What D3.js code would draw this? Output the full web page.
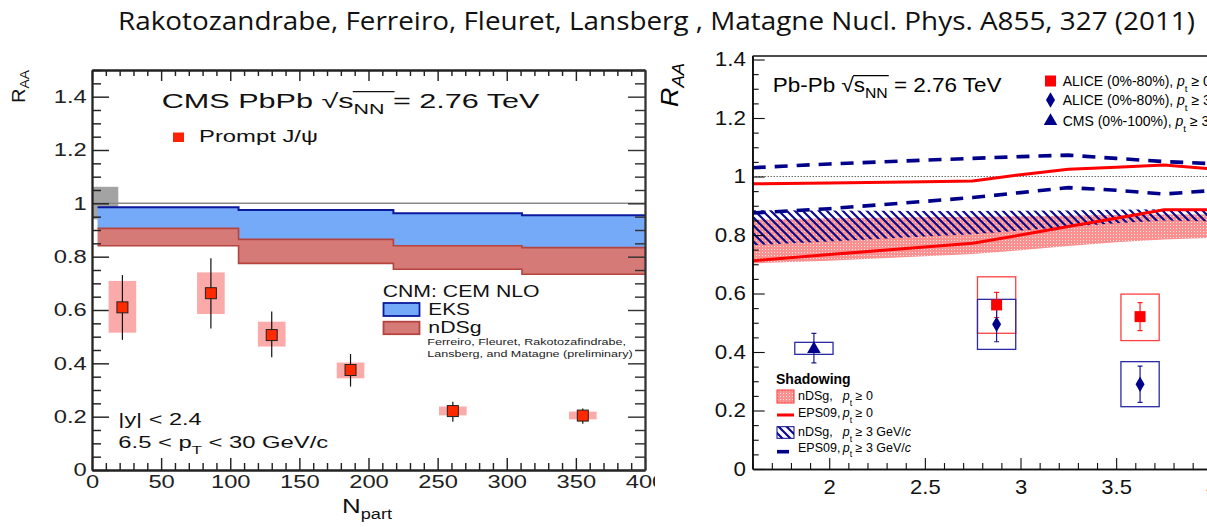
<!DOCTYPE html>
<html><head><meta charset="utf-8">
<script src="https://cdn.jsdelivr.net/npm/d3@7/dist/d3.min.js"></script>
<style>html,body{margin:0;padding:0;background:#fff;}svg{display:block;}</style>
</head><body>
<svg id="chart" width="1207" height="527"></svg>
<script>
// ================= DATA =================
const titleText = "Rakotozandrabe, Ferreiro, Fleuret, Lansberg , Matagne Nucl. Phys. A855, 327 (2011)";

// ---- Left panel: CMS prompt J/psi R_AA vs N_part ----
const npart      = [22, 86, 130, 187, 261, 355];
const raaCMS     = [0.610, 0.663, 0.506, 0.375, 0.221, 0.204];
const statLoCMS  = [0.488, 0.531, 0.423, 0.313, 0.181, 0.173];
const statHiCMS  = [0.731, 0.794, 0.594, 0.435, 0.256, 0.231];
const systLoCMS  = [0.515, 0.585, 0.463, 0.344, 0.205, 0.190];
const systHiCMS  = [0.709, 0.741, 0.556, 0.403, 0.238, 0.219];
const systHalfNpart = 10;
const globalBoxNpart = [0, 19];
const globalBoxRaa   = [0.94, 1.062];
const cnmBinEdges = [4, 106, 218, 311, 400];
const eksHi  = [0.985, 0.975, 0.963, 0.955];
const eksLo  = [0.905, 0.865, 0.841, 0.834];
const ndsgHi = [0.906, 0.865, 0.841, 0.834];
const ndsgLo = [0.841, 0.775, 0.753, 0.734];
const leftXTicks = [0, 50, 100, 150, 200, 250, 300, 350, 400];
const leftYTicks = [0, 0.2, 0.4, 0.6, 0.8, 1, 1.2, 1.4];

// ---- Right panel: ALICE / CMS R_AA vs rapidity with shadowing ----
const rapGrid     = [1.6, 2.0, 2.5, 2.75, 3.0, 3.25, 3.5, 3.75, 4.0];
const eps09Pt0Hi  = [0.975, 0.978, 0.982, 0.985, 1.006, 1.025, 1.032, 1.039, 1.026];
const eps09Pt0Lo  = [0.712, 0.733, 0.759, 0.772, 0.800, 0.829, 0.857, 0.886, 0.886];
const eps09Pt3Hi  = [1.030, 1.043, 1.056, 1.062, 1.068, 1.073, 1.062, 1.051, 1.044];
const eps09Pt3Lo  = [0.875, 0.890, 0.915, 0.928, 0.945, 0.962, 0.953, 0.940, 0.952];
const ndsgPt3Hi   = [0.885, 0.884, 0.882, 0.882, 0.883, 0.884, 0.886, 0.888, 0.888];
const ndsgPt3Lo   = [0.765, 0.778, 0.795, 0.803, 0.815, 0.828, 0.840, 0.850, 0.847];
const ndsgPt0Hi   = [0.852, 0.857, 0.861, 0.862, 0.864, 0.866, 0.868, 0.870, 0.870];
const ndsgPt0Lo   = [0.703, 0.712, 0.727, 0.735, 0.748, 0.762, 0.775, 0.785, 0.790];

const aliceRap      = [2.875, 3.625];
const alicePt0      = [0.561, 0.521];
const alicePt0StLo  = [0.518, 0.473];
const alicePt0StHi  = [0.604, 0.569];
const alicePt0SyLo  = [0.464, 0.439];
const alicePt0SyHi  = [0.657, 0.598];
const alicePt3      = [0.495, 0.290];
const alicePt3StLo  = [0.435, 0.228];
const alicePt3StHi  = [0.555, 0.352];
const alicePt3SyLo  = [0.409, 0.213];
const alicePt3SyHi  = [0.580, 0.367];
const cmsRap        = [1.92];
const cmsRaa        = [0.410];
const cmsStLo       = [0.363];
const cmsStHi       = [0.464];
const cmsSyLo       = [0.392];
const cmsSyHi       = [0.433];
const systHalfRap   = 0.1;
const rightXTicks = [2, 2.5, 3, 3.5, 4];
const rightYTicks = [0, 0.2, 0.4, 0.6, 0.8, 1, 1.2, 1.4];

// ================= DRAWING =================
const FONT = "'Liberation Sans', Arial, Helvetica, sans-serif";
const svg = d3.select("#chart");
const defs = svg.append("defs");
const fmt = d3.format("~g");

// patterns
const hatch = defs.append("pattern").attr("id","hatch").attr("patternUnits","userSpaceOnUse")
  .attr("width",8).attr("height",8);
hatch.append("path").attr("d","M0,0 L8,8 M-2,6 L2,10 M6,-2 L10,2")
  .attr("stroke","#0a0a8c").attr("stroke-width",2.2).attr("fill","none");
const dots = defs.append("pattern").attr("id","dots").attr("patternUnits","userSpaceOnUse")
  .attr("width",3).attr("height",3);
dots.append("rect").attr("width",3).attr("height",3).attr("fill","#fb9090");
dots.append("rect").attr("x",0).attr("y",0).attr("width",1).attr("height",1).attr("fill","#ffe4e4");

defs.append("clipPath").attr("id","clipL").append("rect").attr("x",0).attr("y",40).attr("width",655).attr("height",487);

// rich text helper
function rich(parent, x, y, parts, o) {
  const g = parent.append("g").attr("transform", `translate(${x},${y})`);
  const t = g.append("text").attr("font-family", o.family || FONT).attr("font-size", o.size)
    .attr("fill", o.fill || "#000");
  if (o.weight) t.attr("font-weight", o.weight);
  if (o.style) t.attr("font-style", o.style);
  let shift = 0;
  const subShift = (o.subShift || 0.33) * o.size;
  parts.forEach(p => {
    if (typeof p === "string") p = {t: p};
    const s = p.sub ? subShift : 0;
    const ts = t.append("tspan").text(p.t);
    if (p.x !== undefined) ts.attr("x", p.x);
    if (s !== shift) ts.attr("dy", s - shift);
    shift = s;
    if (p.sub) ts.attr("font-size", o.size * 0.7);
    if (p.italic) ts.attr("font-style", "italic");
  });
  let sx = o.sx || 1;
  if (o.width) sx = o.width / t.node().getComputedTextLength();
  g.attr("transform", `translate(${x},${y}) scale(${sx},1)`);
  if (o.over) {
    const n = t.node();
    const e = n.getExtentOfChar(o.over[0]);
    const x1 = e.x + e.width - 0.5;
    const x2 = n.getEndPositionOfChar(o.over[1]).x + 1;
    const yy = -o.size * 0.80;
    g.append("line").attr("x1", x1).attr("x2", x2).attr("y1", yy).attr("y2", yy)
      .attr("stroke", o.fill || "#000").attr("stroke-width", o.size * 0.065);
  }
  return g;
}

// ---- Title ----
svg.append("text").attr("x",118).attr("y",30).attr("font-family","'Liberation Sans Narrow', 'Open Sans', sans-serif")
  .attr("font-size",26).attr("fill","#111").attr("textLength",1077).attr("lengthAdjust","spacingAndGlyphs")
  .text(titleText);

// ================= LEFT PANEL =================
const L = svg.append("g").attr("clip-path","url(#clipL)");
const xL = d3.scaleLinear().domain([0, 400]).range([92, 645]);
const yL = d3.scaleLinear().domain([0, 1.5]).range([470, 70]);

L.append("rect").attr("x", xL(globalBoxNpart[0])).attr("width", xL(globalBoxNpart[1]) - xL(globalBoxNpart[0]))
  .attr("y", yL(globalBoxRaa[1])).attr("height", yL(globalBoxRaa[0]) - yL(globalBoxRaa[1]))
  .attr("fill", "#a3a3a3");

const stepData = (hi, lo) => cnmBinEdges.map((e, i) => ({x: e, hi: hi[Math.min(i, hi.length - 1)], lo: lo[Math.min(i, lo.length - 1)]}));
const bandArea = d3.area().x(d => xL(d.x)).y0(d => yL(d.lo)).y1(d => yL(d.hi)).curve(d3.curveStepAfter);
const lineHi = d3.line().x(d => xL(d.x)).y(d => yL(d.hi)).curve(d3.curveStepAfter);
const lineLo = d3.line().x(d => xL(d.x)).y(d => yL(d.lo)).curve(d3.curveStepAfter);
const eksD = stepData(eksHi, eksLo), ndsgD = stepData(ndsgHi, ndsgLo);
L.append("path").datum(eksD).attr("d", bandArea).attr("fill", "#75aaf8");
L.append("path").datum(eksD).attr("d", lineHi).attr("fill","none").attr("stroke","#0b1a9c").attr("stroke-width",2);
L.append("path").datum(ndsgD).attr("d", bandArea).attr("fill", "#d67a77");
L.append("path").datum(ndsgD).attr("d", lineHi).attr("fill","none").attr("stroke","#b5443f").attr("stroke-width",1.6);
L.append("path").datum(ndsgD).attr("d", lineLo).attr("fill","none").attr("stroke","#b5443f").attr("stroke-width",1.6);

L.append("line").attr("x1", xL(0)).attr("x2", xL(400)).attr("y1", yL(1)).attr("y2", yL(1))
  .attr("stroke", "#8a8a8a").attr("stroke-width", 1.5);

function styleAxis(g, color, w) {
  g.select(".domain").attr("stroke", color).attr("stroke-width", w);
  g.selectAll(".tick line").attr("stroke", color).attr("stroke-width", w * 0.8);
  g.attr("font-family", FONT);
}
const minorX = d3.range(0, 401, 10).filter(v => v % 50 !== 0);
const minorY = d3.range(0, 1.501, 0.05).filter(v => Math.abs(v / 0.2 - Math.round(v / 0.2)) > 1e-6);
let g;
g = L.append("g").attr("transform", `translate(0,${yL(0)})`)
  .call(d3.axisBottom(xL).tickValues(minorX).tickSize(-7).tickSizeOuter(0).tickFormat(""));
styleAxis(g, "#222", 1.8);
g = L.append("g").attr("transform", `translate(0,${yL(0)})`)
  .call(d3.axisBottom(xL).tickValues(leftXTicks).tickSize(-12).tickSizeOuter(0).tickPadding(5).tickFormat(fmt));
styleAxis(g, "#222", 1.8);
g.attr("font-size", 18);
g.selectAll(".tick text").attr("fill", "#222").attr("transform", "scale(1.32,1)");
g = L.append("g").attr("transform", `translate(0,${yL(1.5)})`)
  .call(d3.axisTop(xL).tickValues(minorX).tickSize(-6).tickSizeOuter(0).tickFormat(""));
styleAxis(g, "#222", 1.8);
g = L.append("g").attr("transform", `translate(0,${yL(1.5)})`)
  .call(d3.axisTop(xL).tickValues(leftXTicks).tickSize(-11).tickSizeOuter(0).tickFormat(""));
styleAxis(g, "#222", 1.8);
g = L.append("g").attr("transform", `translate(${xL(0)},0)`)
  .call(d3.axisLeft(yL).tickValues(minorY).tickSize(-9).tickSizeOuter(0).tickFormat(""));
styleAxis(g, "#222", 1.8);
g = L.append("g").attr("transform", `translate(${xL(0)},0)`)
  .call(d3.axisLeft(yL).tickValues(leftYTicks).tickSize(-17).tickSizeOuter(0).tickPadding(4).tickFormat(fmt));
styleAxis(g, "#222", 1.8);
g.attr("font-size", 18);
g.selectAll(".tick text").attr("fill", "#222").attr("transform", "scale(1.32,1)");
g = L.append("g").attr("transform", `translate(${xL(400)},0)`)
  .call(d3.axisRight(yL).tickValues(minorY).tickSize(-10).tickSizeOuter(0).tickFormat(""));
styleAxis(g, "#333", 1.8);
g = L.append("g").attr("transform", `translate(${xL(400)},0)`)
  .call(d3.axisRight(yL).tickValues(leftYTicks).tickSize(-17).tickSizeOuter(0).tickFormat(""));
styleAxis(g, "#333", 1.8);

const cmsPts = npart.map((n, i) => ({n, v: raaCMS[i], sl: statLoCMS[i], sh: statHiCMS[i], yl: systLoCMS[i], yh: systHiCMS[i]}));
L.selectAll(".syst").data(cmsPts).join("rect")
  .attr("x", d => xL(d.n - systHalfNpart)).attr("width", d => xL(d.n + systHalfNpart) - xL(d.n - systHalfNpart))
  .attr("y", d => yL(d.yh)).attr("height", d => yL(d.yl) - yL(d.yh)).attr("fill", "#fbaaaa");
L.selectAll(".stat").data(cmsPts).join("line")
  .attr("x1", d => xL(d.n)).attr("x2", d => xL(d.n)).attr("y1", d => yL(d.sh)).attr("y2", d => yL(d.sl))
  .attr("stroke", "#111").attr("stroke-width", 1.2);
L.selectAll(".mk").data(cmsPts).join("rect")
  .attr("x", d => xL(d.n) - 5.5).attr("y", d => yL(d.v) - 5.5).attr("width", 11).attr("height", 11)
  .attr("fill", "#ff2a00").attr("stroke", "#222").attr("stroke-width", 1);

rich(L, 161.7, 107.7, ["CMS PbPb  √", "s", {t:"NN", sub:true}, " = 2.76 TeV"], {size: 20, width: 378, fill: "#111", over: [10, 13]});
L.append("rect").attr("x", 173).attr("y", 132.5).attr("width", 11).attr("height", 9.5).attr("fill", "#ff2200");
rich(L, 199, 141.7, ["Prompt J/ψ"], {size: 16, width: 119, fill: "#111"});
rich(L, 382.7, 296.7, ["CNM: CEM NLO"], {size: 16, width: 157, fill: "#111"});
L.append("rect").attr("x", 383.5).attr("y", 303).attr("width", 36).attr("height", 13)
  .attr("fill", "#75aaf8").attr("stroke", "#0b1a9c").attr("stroke-width", 1.8);
L.append("rect").attr("x", 383.5).attr("y", 321.7).attr("width", 36).attr("height", 12.5)
  .attr("fill", "#d67a77").attr("stroke", "#b5443f").attr("stroke-width", 1.8);
rich(L, 428.3, 315, ["EKS"], {size: 16, width: 41.7, fill: "#111"});
rich(L, 428.3, 333.3, ["nDSg"], {size: 16, width: 53.3, fill: "#111"});
rich(L, 427.3, 345, ["Ferreiro, Fleuret, Rakotozafindrabe,"], {size: 8.2, width: 198.7, fill: "#222"});
rich(L, 427.3, 357.3, ["Lansberg, and Matagne (preliminary)"], {size: 8.2, width: 205.4, fill: "#222"});
rich(L, 118.3, 425, ["|y| < 2.4"], {size: 16, width: 83.3, fill: "#111"});
rich(L, 118.3, 448.3, ["6.5 < p", {t:"T", sub:true}, " < 30 GeV/c"], {size: 16, width: 210, fill: "#111"});
rich(L, 342, 513, ["N", {t:"part", sub:true}], {size: 20, width: 50, fill: "#111", subShift: 0.3});
svg.append("text").attr("transform", "translate(25,103) rotate(-90) scale(1.15,1)")
  .attr("font-family", FONT).attr("font-size", 17.5).attr("fill", "#111")
  .call(t => { t.append("tspan").text("R"); t.append("tspan").attr("dy", 4).attr("font-size", 12).text("AA"); });

// ================= RIGHT PANEL =================
const R = svg.append("g");
const xR = d3.scaleLinear().domain([1.6, 4.0]).range([752.7, 1211.8]);
const yR = d3.scaleLinear().domain([0, 1.412]).range([469, 56]);
const curve = (vals) => rapGrid.map((r, i) => [xR(r), yR(vals[i])]);
const bandR = (hi, lo) => rapGrid.map((r, i) => ({r, hi: hi[i], lo: lo[i]}));
const areaR = d3.area().x(d => xR(d.r)).y0(d => yR(d.lo)).y1(d => yR(d.hi));

R.append("path").datum(bandR(ndsgPt0Hi, ndsgPt0Lo)).attr("d", areaR).attr("fill", "url(#dots)");
R.append("path").datum(bandR(ndsgPt3Hi, ndsgPt3Lo)).attr("d", areaR).attr("fill", "url(#hatch)");
R.append("line").attr("x1", xR(1.6)).attr("x2", 1207).attr("y1", yR(1)).attr("y2", yR(1))
  .attr("stroke", "#222").attr("stroke-width", 1).attr("stroke-dasharray", "1,2");
const ln = d3.line();
[eps09Pt0Hi, eps09Pt0Lo].forEach(v => R.append("path").attr("d", ln(curve(v))).attr("fill", "none")
  .attr("stroke", "#ff0000").attr("stroke-width", 3));
[eps09Pt3Hi, eps09Pt3Lo].forEach(v => R.append("path").attr("d", ln(curve(v))).attr("fill", "none")
  .attr("stroke", "#00008b").attr("stroke-width", 3.6).attr("stroke-dasharray", "13,9"));

R.append("line").attr("x1", xR(1.6)).attr("x2", 1207).attr("y1", yR(1.412)).attr("y2", yR(1.412))
  .attr("stroke", "#111").attr("stroke-width", 1.3);
const minorXR = d3.range(1.6, 4.05, 0.1).map(v => +v.toFixed(2)).filter(v => Math.abs(v * 2 - Math.round(v * 2)) > 1e-6);
const minorYR = d3.range(0, 1.42, 0.05).map(v => +v.toFixed(2)).filter(v => Math.abs(v / 0.2 - Math.round(v / 0.2)) > 1e-6);
g = R.append("g").attr("transform", `translate(0,${yR(0)})`)
  .call(d3.axisBottom(xR).tickValues(minorXR).tickSize(-6).tickSizeOuter(0).tickFormat(""));
styleAxis(g, "#111", 1.4);
g = R.append("g").attr("transform", `translate(0,${yR(0)})`)
  .call(d3.axisBottom(xR).tickValues(rightXTicks).tickSize(-11).tickSizeOuter(0).tickPadding(11).tickFormat(fmt));
styleAxis(g, "#111", 1.4);
g.attr("font-size", 20);
g.selectAll(".tick text").attr("fill", "#111").attr("transform", "scale(1.1,1)");
g = R.append("g").attr("transform", `translate(${xR(1.6)},0)`)
  .call(d3.axisLeft(yR).tickValues(minorYR).tickSize(-6).tickSizeOuter(0).tickFormat(""));
styleAxis(g, "#111", 1.4);
g = R.append("g").attr("transform", `translate(${xR(1.6)},0)`)
  .call(d3.axisLeft(yR).tickValues(rightYTicks).tickSize(-12).tickSizeOuter(0).tickPadding(6).tickFormat(fmt));
styleAxis(g, "#111", 1.4);
g.attr("font-size", 20);
g.selectAll(".tick text").attr("fill", "#111").attr("transform", "scale(1.12,1)");
g.select(".domain").attr("d", `M0,${yR(1.412)}V${yR(0)}`);

function systBoxes(raps, lo, hi, color) {
  R.selectAll(null).data(raps.map((r, i) => ({r, lo: lo[i], hi: hi[i]}))).join("rect")
    .attr("x", d => xR(d.r - systHalfRap)).attr("width", d => xR(d.r + systHalfRap) - xR(d.r - systHalfRap))
    .attr("y", d => yR(d.hi)).attr("height", d => yR(d.lo) - yR(d.hi))
    .attr("fill", "none").attr("stroke", color).attr("stroke-width", 1.3);
}
function statBars(raps, lo, hi, color) {
  const d = raps.map((r, i) => ({r, lo: lo[i], hi: hi[i]}));
  R.selectAll(null).data(d).join("path")
    .attr("d", p => `M${xR(p.r)},${yR(p.hi)}V${yR(p.lo)}M${xR(p.r)-2.5},${yR(p.hi)}h5M${xR(p.r)-2.5},${yR(p.lo)}h5`)
    .attr("fill", "none").attr("stroke", color).attr("stroke-width", 1.2);
}
systBoxes(aliceRap, alicePt0SyLo, alicePt0SyHi, "#ff4040");
systBoxes(aliceRap, alicePt3SyLo, alicePt3SyHi, "#2b2ba6");
systBoxes(cmsRap, cmsSyLo, cmsSyHi, "#2b2ba6");
statBars(aliceRap, alicePt0StLo, alicePt0StHi, "#ff2020");
statBars(aliceRap, alicePt3StLo, alicePt3StHi, "#1a1a9a");
statBars(cmsRap, cmsStLo, cmsStHi, "#1a1a9a");
const sq = d3.symbol(d3.symbolSquare, 121), dia = d3.symbol(d3.symbolDiamond, 70), tri = d3.symbol(d3.symbolTriangle, 80);
R.selectAll(null).data(aliceRap.map((r, i) => [r, alicePt3[i]])).join("path").attr("d", dia)
  .attr("transform", d => `translate(${xR(d[0])},${yR(d[1])})`).attr("fill", "#00008b");
R.selectAll(null).data(aliceRap.map((r, i) => [r, alicePt0[i]])).join("path").attr("d", sq)
  .attr("transform", d => `translate(${xR(d[0])},${yR(d[1])})`).attr("fill", "#ff0000");
R.selectAll(null).data(cmsRap.map((r, i) => [r, cmsRaa[i]])).join("path").attr("d", tri)
  .attr("transform", d => `translate(${xR(d[0])},${yR(d[1])})`).attr("fill", "#00008b");

rich(R, 772.7, 91.7, ["Pb-Pb ", "√", "s", {t:"NN", sub:true}, " = 2.76 TeV"], {size: 20, width: 229, over: [6, 9]});
const dataLegend = [
  {sym: sq, color: "#ff0000", y: 81, parts: ["ALICE (0%-80%), ", {t:"p", italic:true}, {t:"t", sub:true}, " ≥ 0"]},
  {sym: dia, color: "#00008b", y: 100, parts: ["ALICE (0%-80%), ", {t:"p", italic:true}, {t:"t", sub:true}, " ≥ 3 GeV/", {t:"c", italic:true}]},
  {sym: tri, color: "#00008b", y: 121, parts: ["CMS (0%-100%),  ", {t:"p", italic:true}, {t:"t", sub:true}, " ≥ 3 GeV/", {t:"c", italic:true}]}
];
dataLegend.forEach(e => {
  R.append("path").attr("d", e.sym).attr("transform", `translate(1050.5,${e.y})`).attr("fill", e.color);
  rich(R, 1062.7, e.y + 4.5, e.parts, {size: 14, subShift: 0.45});
});
rich(R, 776, 384, ["Shadowing"], {size: 14, weight: "bold"});
R.append("rect").attr("x", 777).attr("y", 390).attr("width", 17).attr("height", 13)
  .attr("fill", "url(#dots)").attr("stroke", "#ff3030").attr("stroke-width", 1);
R.append("line").attr("x1", 777).attr("x2", 794).attr("y1", 415).attr("y2", 415).attr("stroke", "#ff0000").attr("stroke-width", 3);
R.append("rect").attr("x", 777).attr("y", 426.7).attr("width", 17).attr("height", 11.6)
  .attr("fill", "url(#hatch)").attr("stroke", "#0a0a8c").attr("stroke-width", 1);
R.append("line").attr("x1", 777).attr("x2", 789).attr("y1", 451.7).attr("y2", 451.7).attr("stroke", "#00008b").attr("stroke-width", 3.6);
const shadowLegend = [
  {y: 400, parts: ["nDSg,", {t:"p", italic:true, x: 44.7}, {t:"t", sub:true}, " ≥ 0"]},
  {y: 417.3, parts: ["EPS09,", {t:"p", italic:true, x: 44.7}, {t:"t", sub:true}, " ≥ 0"]},
  {y: 436, parts: ["nDSg,", {t:"p", italic:true, x: 44.7}, {t:"t", sub:true}, " ≥ 3 GeV/", {t:"c", italic:true}]},
  {y: 451.7, parts: ["EPS09,", {t:"p", italic:true, x: 44.7}, {t:"t", sub:true}, " ≥ 3 GeV/", {t:"c", italic:true}]}
];
shadowLegend.forEach(e => rich(R, 798, e.y, e.parts, {size: 12.5, subShift: 0.45}));
svg.append("text").attr("transform", "translate(678,107) rotate(-90) scale(1.12,1)")
  .attr("font-family", FONT).attr("font-size", 24).attr("font-style", "italic").attr("fill", "#000")
  .call(t => { t.append("tspan").text("R"); t.append("tspan").attr("dy", 6).attr("font-size", 16.5).text("AA"); });
</script>
</body></html>
